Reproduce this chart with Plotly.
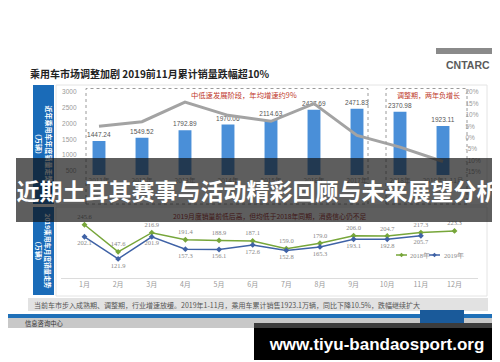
import plotly.graph_objects as go

# ---------------- data ----------------
years = ["2011年", "2012年", "2013年", "2014年", "2015年", "2016年", "2017年", "2018年", "2019年1-11月"]
annual_sales = [1447.24, 1549.52, 1792.89, 1970.06, 2114.63, 2437.69, 2471.83, 2370.98, 1923.11]
growth_pct = [5.0, 7.0, 15.6, 9.8, 7.2, 14.9, 1.0, -4.1, -10.4]
left_ticks = [500, 1000, 1500, 2000, 2500, 3000]
right_ticks = [-15, -10, -5, 0, 5, 10, 15, 20]
right_tick_labels = ["-15%", "-10%", "-5%", "0%", "5%", "10%", "15%", "20%"]

months = ["1月", "2月", "3月", "4月", "5月", "6月", "7月", "8月", "9月", "10月", "11月", "12月"]
sales_2018 = [245.6, 147.6, 216.9, 191.4, 188.9, 187.1, 159.0, 179.0, 206.0, 204.7, 217.3, 223.3]
sales_2019 = [202.1, 121.9, 201.9, 157.3, 156.1, 172.6, 152.8, 165.3, 193.1, 192.8, 205.7]

W, H = 500, 362
def X(p): return p / W
def Y(p): return 1 - p / H

CJK = "Noto Sans CJK SC"
GREEN = "#77a63a"
BLUE = "#3f62a6"

fig = go.Figure()

fig.add_trace(go.Bar(
    x=years, y=annual_sales, xaxis="x", yaxis="y",
    marker=dict(color="#4a8fd8", line=dict(width=0)), width=0.3,
    text=[f"{v:.2f}" for v in annual_sales], textposition="outside",
    constraintext="none", cliponaxis=False,
    textfont=dict(size=6.5, color="#555", family="Liberation Sans"),
    showlegend=False, hoverinfo="skip"))
fig.add_trace(go.Scatter(
    x=years, y=growth_pct, xaxis="x", yaxis="y2", mode="lines",
    line=dict(color="#a3a3a3", width=3), showlegend=False, hoverinfo="skip"))

fig.add_trace(go.Scatter(
    x=months, y=sales_2018, xaxis="x2", yaxis="y3", mode="lines+markers+text",
    line=dict(color=GREEN, width=1.5), marker=dict(symbol="diamond", size=4.5, color=GREEN),
    text=[f"{v:.1f}" for v in sales_2018], textposition="top center",
    textfont=dict(size=6.5, color="#888", family="Liberation Serif"),
    cliponaxis=False, showlegend=False, hoverinfo="skip"))
fig.add_trace(go.Scatter(
    x=months[:len(sales_2019)], y=sales_2019, xaxis="x2", yaxis="y3", mode="lines+markers+text",
    line=dict(color=BLUE, width=1.5), marker=dict(symbol="diamond", size=4.5, color=BLUE),
    text=[f"{v:.1f}" for v in sales_2019], textposition="bottom center",
    textfont=dict(size=6.5, color="#888", family="Liberation Serif"),
    cliponaxis=False, showlegend=False, hoverinfo="skip"))

shapes = []
def rect(x0, y0, x1, y1, fill=None, line=None, width=1, dash=None, layer="below"):
    d = dict(type="rect", xref="paper", yref="paper", x0=X(x0), x1=X(x1), y0=Y(y1), y1=Y(y0), layer=layer)
    d["fillcolor"] = fill if fill else "rgba(0,0,0,0)"
    if line:
        d["line"] = dict(color=line, width=width, dash=dash) if dash else dict(color=line, width=width)
    else:
        d["line"] = dict(width=0)
    shapes.append(d)

# panels
rect(48, 77, 479, 197, line="#e4e4e4")
rect(48, 199, 479, 288, line="#e4e4e4")
# left blue label boxes
rect(25, 77, 46, 196, fill="#1a6bb8")
rect(25, 199, 46, 287, fill="#1a6bb8")
# dashed boxes in top chart
rect(78, 80.5, 360, 196, line="#9a9a9a", width=1, dash="dot", layer="above")
rect(378, 80.5, 459, 196, line="#9a9a9a", width=1, dash="dot", layer="above")
# logo bar
rect(428, 40, 500, 46, fill="#8a8a8a")
# footer
rect(20, 290, 480, 303, fill="#e2e2e2")
rect(0, 306, 500, 310, fill="#1f70b8")
rect(0, 310, 500, 320, fill="#c8c8c8")
rect(412, 302, 456, 318, fill="#1a5a9a")

# custom legend for bottom chart
def legend_item(x0, x1, color):
    yy = 247
    shapes.append(dict(type="line", xref="paper", yref="paper", x0=X(x0), x1=X(x1), y0=Y(yy), y1=Y(yy),
                       line=dict(color=color, width=1.5)))
    cx = (x0 + x1) / 2
    r = 2.3
    path = (f"M {X(cx)},{Y(yy - r)} L {X(cx + r)},{Y(yy)} L {X(cx)},{Y(yy + r)} L {X(cx - r)},{Y(yy)} Z")
    shapes.append(dict(type="path", xref="paper", yref="paper", path=path, fillcolor=color, line=dict(width=0)))
legend_item(388, 399, GREEN)
legend_item(421, 432, BLUE)

ann = []
def text(x, y, s, size, color, xanchor="center", yanchor="middle", family=CJK, angle=0, **kw):
    d = dict(xref="paper", yref="paper", x=X(x), y=Y(y), text=s, showarrow=False,
             xanchor=xanchor, yanchor=yanchor, textangle=angle,
             font=dict(size=size, color=color, family=family))
    d.update(kw)
    ann.append(d)

text(20, 65, "<b>乘用车市场调整加剧 2019前11月累计销量跌幅超10%</b>", 10, "#222", xanchor="left")
text(460, 57, "<b>CNTARC</b>", 10.5, "#5a5a5a", family="Liberation Sans")
text(236, 87, "中低速发展阶段，年均增速约9%", 7.3, "#c0392b")
text(420, 87, "调整期，两年负增长", 7, "#c0392b")
text(35.5, 136, "<b>近年乘用车年度销量走势<br>（万辆）</b>", 7, "white", angle=90)
text(35.5, 243, "<b>2019乘用车月度销量走势<br>（万辆）</b>", 6.6, "white", angle=90)
text(262, 208, "2019月度销量前低后高，但均低于2018年同期，消费信心仍不足", 6.8, "#a52a2a")
text(400, 247, "2018年", 6.5, "#888", xanchor="left", family="Liberation Serif")
text(434, 247, "2019年", 6.5, "#888", xanchor="left", family="Liberation Serif")
text(24, 297, "当前车市步入成熟期、调整期，行业增速放缓。2019年1-11月，乘用车累计销售1923.1万辆，同比下降10.5%，跌幅继续扩大",
     7, "#555", xanchor="left")
text(15, 315, "信息咨询中心", 6.3, "#333", xanchor="left")

# dark overlay banner with title (annotation so it covers other annotations)
ann.append(dict(xref="paper", yref="paper", x=X(8), y=Y(150), xanchor="left", yanchor="top",
                width=484, height=64, bgcolor="rgba(15,15,15,0.67)", borderpad=0, borderwidth=0,
                showarrow=False, align="center", valign="middle",
                text="<b>近期土耳其赛事与活动精彩回顾与未来展望分析</b>",
                font=dict(size=23, color="white", family=CJK)))
# url box
ann.append(dict(xref="paper", yref="paper", x=X(246), y=Y(315), xanchor="left", yanchor="top",
                width=245, height=5, bgcolor="#3c3c3c", borderpad=0, borderwidth=0,
                showarrow=False, text=" ", font=dict(size=2)))
ann.append(dict(xref="paper", yref="paper", x=X(246), y=Y(320), xanchor="left", yanchor="top",
                width=245, height=32, bgcolor="#000000", borderpad=0, borderwidth=0,
                showarrow=False, align="center", valign="middle",
                text="<b>www.tiyu-bandaosport.org</b>",
                font=dict(size=17, color="white", family="Liberation Sans")))

axis_font = dict(size=6.5, color="#999", family="Liberation Sans")
fig.update_layout(
    width=W, height=H, autosize=False,
    margin=dict(l=0, r=0, t=0, b=0),
    paper_bgcolor="white", plot_bgcolor="rgba(0,0,0,0)",
    font=dict(family=CJK),
    showlegend=False,
    bargap=0.7,
    xaxis=dict(domain=[X(69.5), X(456.5)], anchor="y", type="category",
               showgrid=False, showline=False, zeroline=False, ticks="",
               tickfont=dict(size=6.5, color="#999", family=CJK)),
    yaxis=dict(domain=[Y(167), Y(80)], anchor="x", range=[373, 3126],
               tickvals=left_ticks, showgrid=False, zeroline=False, showline=False,
               tickfont=axis_font),
    yaxis2=dict(overlaying="y", side="right", anchor="x", range=[-16.3, 21.75],
                tickvals=right_ticks, ticktext=right_tick_labels,
                showgrid=False, zeroline=False, showline=False, tickfont=axis_font),
    xaxis2=dict(domain=[X(52.6), X(470.4)], anchor="y3", type="category",
                showgrid=False, showline=True, linecolor="#dcdcdc", linewidth=1,
                zeroline=False, ticks="",
                tickfont=dict(size=7, color="#999", family=CJK)),
    yaxis3=dict(domain=[Y(270), Y(205)], anchor="x2", range=[53, 288], visible=False),
    shapes=shapes,
    annotations=ann,
)

fig.write_html("out.html")
